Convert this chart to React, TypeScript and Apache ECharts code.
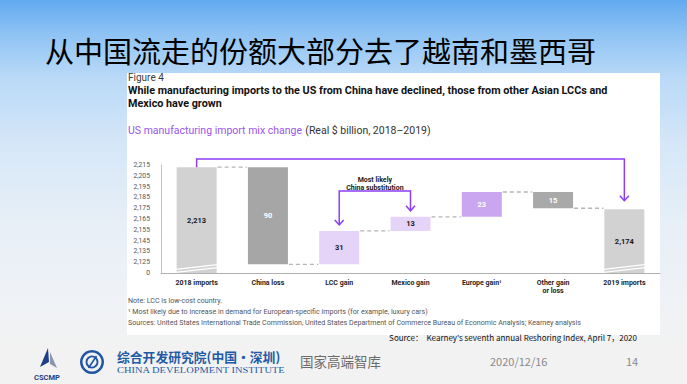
import React, { useEffect, useRef } from "react";
import * as echarts from "echarts";

// ---------- data ----------
const slideTitle = "从中国流走的份额大部分去了越南和墨西哥";
const categories = [
  "2018 imports",
  "China loss",
  "LCC gain",
  "Mexico gain",
  "Europe gain¹",
  "Other gain\nor loss",
  "2019 imports",
];
const startTotal = 2213;
const changes = [-90, 31, 13, 23, -15]; // China loss, LCC, Mexico, Europe, Other
const endTotal = 2174;
const barLabels = ["2,213", "90", "31", "13", "23", "15", "2,174"];
const yMin = 2115;
const yMax = 2215;
const yStep = 10;
const brokenAxisLabel = "0";

// ---------- styles ----------
const barColors = ["#d2d2d2", "#a6a6a6", "#e6d4f8", "#e6d4f8", "#c9a6ef", "#a9a9a9", "#d2d2d2"];
const labelColors = ["#1a1a1a", "#ffffff", "#1a1a1a", "#1a1a1a", "#ffffff", "#ffffff", "#1a1a1a"];
const purple = "#8c3ef5";
const LATIN = "Roboto, 'Noto Sans', sans-serif";
const CJK = "'Noto Sans CJK SC', sans-serif";

// waterfall rows: [index, low, high, connector level]
const levels: number[] = [startTotal];
changes.forEach((c) => levels.push(levels[levels.length - 1] + c));
const lastIdx = categories.length - 1;
const rows = categories.map((_, i) => {
  if (i === 0) return [i, yMin, startTotal, levels[0]];
  if (i === lastIdx) return [i, yMin, endTotal, NaN];
  const a = levels[i - 1];
  const b = levels[i];
  return [i, Math.min(a, b), Math.max(a, b), b];
});

export default function App() {
  const ref = useRef<HTMLDivElement>(null);

  useEffect(() => {
    if (!ref.current) return;
    const chart = echarts.init(ref.current, null, { renderer: "svg" });
    const BW = 40;

    const option: any = {
      animation: false,
      backgroundColor: "transparent",
      grid: { left: 161, top: 165, width: 499, height: 108, containLabel: false },
      xAxis: {
        type: "category",
        data: categories,
        axisLine: { lineStyle: { color: "#b0b0b0", width: 1 } },
        axisTick: { show: false },
        axisLabel: {
          interval: 0,
          margin: 6,
          fontSize: 7,
          fontWeight: "bold",
          color: "#1e1e1e",
          fontFamily: LATIN,
          lineHeight: 8,
        },
      },
      yAxis: {
        type: "value",
        min: yMin,
        max: yMax,
        interval: yStep,
        axisLine: { show: true, lineStyle: { color: "#c4c4c4", width: 1 } },
        axisTick: { show: false },
        splitLine: { show: false },
        axisLabel: {
          margin: 11,
          fontSize: 6.8,
          color: "#555",
          fontFamily: LATIN,
          formatter: (v: number) => (v === yMin ? brokenAxisLabel : v.toLocaleString("en-US")),
        },
      },
      series: [
        {
          type: "custom",
          clip: false,
          encode: { x: 0, y: [1, 2] },
          data: rows,
          renderItem: (params: any, api: any) => {
            const i = api.value(0);
            const lo = api.value(1);
            const hi = api.value(2);
            const lvl = api.value(3);
            const pLo = api.coord([i, lo]);
            const pHi = api.coord([i, hi]);
            const band = api.size([1, 0])[0];
            const x0 = pHi[0] - BW / 2;
            const children: any[] = [
              {
                type: "rect",
                shape: { x: x0, y: pHi[1], width: BW, height: pLo[1] - pHi[1] },
                style: { fill: barColors[i] },
                textContent: {
                  style: {
                    text: barLabels[i],
                    fill: labelColors[i],
                    font: `bold 7.5px ${LATIN}`,
                  },
                },
                textConfig: { position: "inside" },
              },
            ];
            if (!isNaN(lvl)) {
              const y = api.coord([i, lvl])[1];
              children.push({
                type: "line",
                shape: { x1: x0 + BW + 1, y1: y, x2: x0 + band - 1, y2: y },
                style: { stroke: "#b5b5b5", lineWidth: 1.4, lineDash: [4, 3] },
              });
            }
            if (i === 0 || i === lastIdx) {
              const yb = pLo[1];
              [0.7, 3.7].forEach((d) => {
                children.push({
                  type: "line",
                  shape: { x1: x0 - 1, y1: yb - d, x2: x0 + BW + 3, y2: yb - d - 5 },
                  style: { stroke: "#ffffff", lineWidth: 1.2 },
                });
              });
            }
            return { type: "group", children };
          },
        },
        {
          type: "custom",
          clip: false,
          z: 3,
          encode: { x: 0, y: 1 },
          data: [[0, yMax]],
          renderItem: (params: any, api: any) => {
            const c = (k: number, v: number) => api.coord([k, v]);
            const chev = (x: number, y: number) => ({
              type: "polyline",
              shape: { points: [[x - 4.5, y - 5], [x, y], [x + 4.5, y - 5]] },
              style: { stroke: purple, lineWidth: 1.5, fill: null },
            });
            const lineStyle = { stroke: purple, lineWidth: 1.5, fill: null };
            const a0 = c(0, startTotal);
            const a1 = c(lastIdx, endTotal + 1);
            const topY = c(0, yMax)[1] - 6;
            const tipBig = a1[1] - 7.5;
            const l = c(2, levels[2]);
            const m = c(3, levels[3]);
            const brY = c(2, 2191)[1];
            const tipL = l[1] - 6;
            const tipM = m[1] - 6;
            return {
              type: "group",
              children: [
                {
                  type: "polyline",
                  shape: { points: [[a0[0], a0[1]], [a0[0], topY], [a1[0], topY], [a1[0], tipBig]] },
                  style: lineStyle,
                },
                chev(a1[0], tipBig),
                {
                  type: "polyline",
                  shape: { points: [[l[0], tipL], [l[0], brY], [m[0], brY], [m[0], tipM]] },
                  style: lineStyle,
                },
                chev(l[0], tipL),
                chev(m[0], tipM),
                {
                  type: "text",
                  style: {
                    text: "Most likely\nChina substitution",
                    x: (l[0] + m[0]) / 2,
                    y: brY - 7,
                    align: "center",
                    verticalAlign: "middle",
                    font: `bold 7px ${LATIN}`,
                    lineHeight: 8.5,
                    fill: "#1a1a1a",
                  },
                },
              ],
            };
          },
        },
      ],
      graphic: [
        {
          type: "text",
          left: 45,
          top: 35,
          style: { text: slideTitle, font: `29px ${CJK}`, fill: "#000" },
        },
        {
          type: "text",
          left: 128,
          top: 72,
          style: { text: "Figure 4", font: `10px ${LATIN}`, fill: "#3a3a3a" },
        },
        {
          type: "text",
          left: 128,
          top: 84,
          style: {
            text: "While manufacturing imports to the US from China have declined, those from other Asian LCCs and\nMexico have grown",
            font: `bold 10.8px ${LATIN}`,
            lineHeight: 13,
            fill: "#111",
          },
        },
        {
          type: "text",
          left: 128,
          top: 124,
          style: {
            text: "{p|US manufacturing import mix change} {g|(Real $ billion, 2018–2019)}",
            rich: {
              p: { font: `10.5px ${LATIN}`, fill: "#9a55ec" },
              g: { font: `10.5px ${LATIN}`, fill: "#333" },
            },
          },
        },
        {
          type: "text",
          left: 128,
          top: 295,
          style: {
            text:
              "Note: LCC is low-cost country.\n¹ Most likely due to increase in demand for European-specific imports (for example, luxury cars)\nSources: United States International Trade Commission, United States Department of Commerce Bureau of Economic Analysis; Kearney analysis",
            font: `7.1px ${LATIN}`,
            lineHeight: 11,
            fill: "#555",
          },
        },
        {
          type: "text",
          right: 50,
          top: 333,
          style: {
            text: "Source：  Kearney's seventh annual Reshoring Index, April 7，2020",
            font: `8px ${CJK}`,
            fill: "#111",
          },
        },
        {
          type: "polygon",
          shape: { points: [[48, 348], [40, 367], [49, 362]] },
          style: { fill: "#1d3f86" },
        },
        {
          type: "polygon",
          shape: { points: [[50, 352], [57, 368], [50, 364]] },
          style: { fill: "#8a96ad" },
        },
        {
          type: "text",
          x: 47,
          y: 377,
          style: { text: "CSCMP", font: `bold 7.5px ${LATIN}`, fill: "#1d3f86", align: "center", verticalAlign: "middle" },
        },
        {
          type: "ring",
          shape: { cx: 92, cy: 362, r: 12, r0: 9.5 },
          style: { fill: "#1f55a3" },
        },
        {
          type: "circle",
          shape: { cx: 92, cy: 362, r: 5.5 },
          style: { fill: "none", stroke: "#1f55a3", lineWidth: 1.8 },
        },
        {
          type: "line",
          shape: { x1: 88.5, y1: 368, x2: 96.5, y2: 356 },
          style: { stroke: "#1f55a3", lineWidth: 1.6 },
        },
        {
          type: "text",
          left: 117,
          top: 350,
          style: { text: "综合开发研究院(中国·深圳)", font: `bold 12.8px ${CJK}`, fill: "#1f5aa6" },
        },
        {
          type: "text",
          left: 117,
          top: 367,
          scaleX: 1.39,
          style: { text: "CHINA DEVELOPMENT INSTITUTE", font: `7.5px 'Liberation Serif', serif`, fill: "#1f5aa6" },
        },
        {
          type: "text",
          left: 300,
          top: 354,
          style: { text: "国家高端智库", font: `13.5px ${CJK}`, fill: "#6b6b6b" },
        },
        {
          type: "text",
          left: 490,
          top: 355,
          style: { text: "2020/12/16", font: `11px ${CJK}`, fill: "#8a8a8a" },
        },
        {
          type: "text",
          left: 626,
          top: 355,
          style: { text: "14", font: `11px ${CJK}`, fill: "#8a8a8a" },
        },
      ],
    };

    chart.setOption(option);
    return () => chart.dispose();
  }, []);

  return (
    <div
      style={{
        position: "absolute",
        left: 0,
        top: 0,
        width: 687,
        height: 384,
        overflow: "hidden",
        background:
          "linear-gradient(to bottom, #62aaf0 0%, #8fc3f4 9%, #b9d9f7 20%, #d6e7f8 38%, #e7eff7 58%, #eff2f6 78%, #f2f2f2 90%, #f2f2f2 100%)",
      }}
    >
      <div
        style={{
          position: "absolute",
          left: 127,
          top: 73,
          width: 533,
          height: 262,
          background: "#ffffff",
        }}
      />
      <div ref={ref} style={{ position: "absolute", left: 0, top: 0, width: 687, height: 384 }} />
    </div>
  );
}
